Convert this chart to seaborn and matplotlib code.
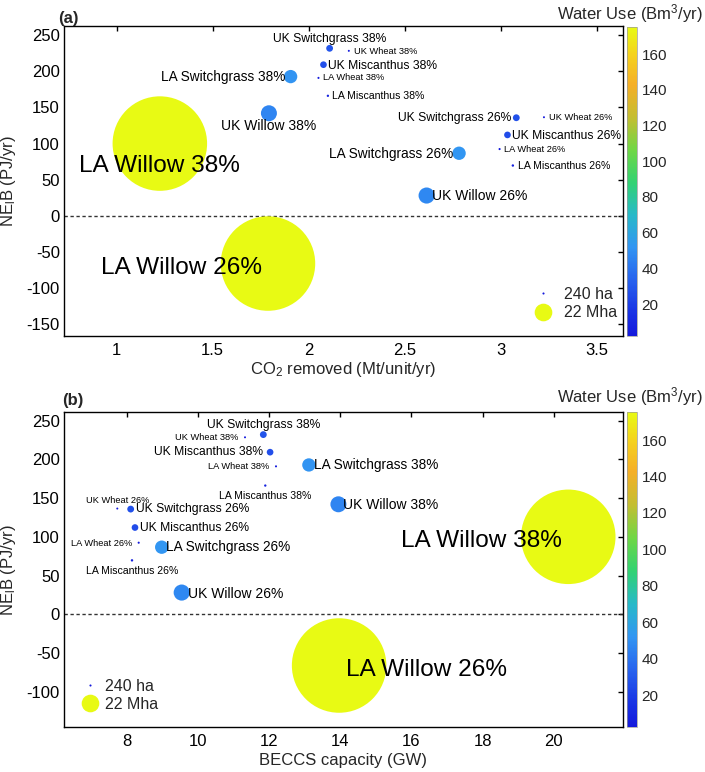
import numpy as np
import pandas as pd
import matplotlib
matplotlib.use("Agg")
import matplotlib.pyplot as plt
import seaborn as sns
from matplotlib.colors import LinearSegmentedColormap, Normalize
from matplotlib.cm import ScalarMappable
from matplotlib.lines import Line2D

# ---------------- data ----------------
labels = ["UK Switchgrass 38%", "UK Wheat 38%", "UK Miscanthus 38%", "LA Wheat 38%",
          "LA Miscanthus 38%", "LA Switchgrass 38%", "UK Willow 38%", "LA Willow 38%",
          "UK Switchgrass 26%", "UK Wheat 26%", "UK Miscanthus 26%", "LA Wheat 26%",
          "LA Miscanthus 26%", "LA Switchgrass 26%", "UK Willow 26%", "LA Willow 26%"]
ne_b = [232.0, 228.5, 209.3, 191.0, 166.2, 192.8, 142.0, 100.0,
        135.8, 136.5, 112.0, 92.4, 69.6, 86.6, 28.0, -66.2]
co2_removed = [2.109, 2.209, 2.077, 2.051, 2.100, 1.906, 1.793, 1.225,
               3.081, 3.225, 3.035, 2.994, 3.063, 2.783, 2.614, 1.788]
beccs_gw = [11.84, 11.325, 12.03, 12.196, 11.895, 13.12, 13.95, 20.41,
            8.112, 7.736, 8.233, 8.337, 8.149, 8.984, 9.546, 13.97]
water_use = [28, 3, 26, 4, 8, 51, 46, 175.4,
             27, 2.3, 25, 3.5, 7, 52, 47, 175.0]
land_mha = [0.105, 0.0003, 0.10, 0.0012, 0.004, 0.427, 0.62, 22.0,
            0.105, 0.00024, 0.10, 0.0015, 0.005, 0.43, 0.63, 22.0]
cbar_ticks = [20, 40, 60, 80, 100, 120, 140, 160]
legend_labels = ["240 ha", "22 Mha"]

df = pd.DataFrame({"label": labels, "ne_b": ne_b, "co2": co2_removed,
                   "beccs": beccs_gw, "water": water_use, "land": land_mha})

# ---------------- style ----------------
sns.set_style("white")
plt.rcParams["font.family"] = ["Liberation Sans", "DejaVu Sans"]
plt.rcParams["mathtext.fontset"] = "custom"
plt.rcParams["mathtext.rm"] = "Liberation Sans"
plt.rcParams["mathtext.it"] = "Liberation Sans:italic"
plt.rcParams["mathtext.default"] = "regular"
plt.rcParams["axes.unicode_minus"] = False

anchors = [(0.0, (20, 25, 220)), (0.073, (25, 50, 228)), (0.183, (40, 100, 238)),
           (0.287, (50, 150, 242)), (0.391, (40, 185, 200)), (0.495, (50, 210, 115)),
           (0.599, (110, 215, 70)), (0.706, (195, 190, 50)), (0.813, (245, 175, 40)),
           (0.911, (245, 210, 30)), (1.0, (232, 250, 20))]
cmap = LinearSegmentedColormap.from_list(
    "wu", [(p, tuple(c / 255 for c in rgb)) for p, rgb in anchors])
norm = Normalize(2.3, 175.4)

def fsize(lab):
    if "Willow" in lab:
        return 17.6 if lab.startswith("LA") else 10.0
    if "Switchgrass" in lab:
        return 9.8 if lab.startswith("LA") else 8.75
    if "Miscanthus" in lab:
        return 7.6 if lab.startswith("LA") else 8.75
    return 6.7

# label placement: (ha, dx px, dy px, va)
place_a = {
    "UK Switchgrass 38%": ("center", 0, 9, "center"),
    "UK Wheat 38%": ("left", 5.0, -0.5, "center"),
    "UK Miscanthus 38%": ("left", 4.5, -1, "center"),
    "LA Wheat 38%": ("left", 4.5, 0, "center"),
    "LA Miscanthus 38%": ("left", 4.5, -0.5, "center"),
    "LA Switchgrass 38%": ("right", -5, -0.5, "center"),
    "UK Willow 38%": ("center", 0, -12.7, "center"),
    "LA Willow 38%": ("center", 0, -28.4, "baseline"),
    "UK Switchgrass 26%": ("right", -4.7, 0, "center"),
    "UK Wheat 26%": ("left", 5.5, 0, "center"),
    "UK Miscanthus 26%": ("left", 4.8, -1, "center"),
    "LA Wheat 26%": ("left", 4.8, 0, "center"),
    "LA Miscanthus 26%": ("left", 4.8, 0, "center"),
    "LA Switchgrass 26%": ("right", -6, -0.7, "center"),
    "UK Willow 26%": ("left", 5.5, -0.7, "center"),
    "LA Willow 26%": ("right", -5.6, -10, "baseline"),
}
place_b = {
    "UK Switchgrass 38%": ("center", 0, 9.3, "center"),
    "UK Wheat 38%": ("right", -6.7, 0, "center"),
    "UK Miscanthus 38%": ("right", -6.7, 0, "center"),
    "LA Wheat 38%": ("right", -6.7, 0, "center"),
    "LA Miscanthus 38%": ("center", 0, -10.3, "center"),
    "LA Switchgrass 38%": ("left", 5.5, 0, "center"),
    "UK Willow 38%": ("left", 4.5, -1, "center"),
    "LA Willow 38%": ("right", -6.6, -10, "baseline"),
    "UK Switchgrass 26%": ("left", 5.5, 0, "center"),
    "UK Wheat 26%": ("center", 0, 8, "center"),
    "UK Miscanthus 26%": ("left", 5.2, 0, "center"),
    "LA Wheat 26%": ("right", -6, -1, "center"),
    "LA Miscanthus 26%": ("center", 0, -10.3, "center"),
    "LA Switchgrass 26%": ("left", 4.5, 0, "center"),
    "UK Willow 26%": ("left", 6.0, -1, "center"),
    "LA Willow 26%": ("left", 7.2, -10.7, "baseline"),
}

fig = plt.figure(figsize=(7.05, 7.72), dpi=100)
W, H = 705, 772

def add_axes_px(x0, y0, x1, y1):
    return fig.add_axes([x0 / W, 1 - y1 / H, (x1 - x0) / W, (y1 - y0) / H])

panels = [
    dict(ax=add_axes_px(64, 26, 622.7, 335.7), cax=add_axes_px(627.3, 26.7, 637, 335.7),
         x="co2", xlim=(0.726, 3.635), ylim=(-166.2, 262.9),
         xticks=[1, 1.5, 2, 2.5, 3, 3.5], yticks=np.arange(-150, 251, 50),
         xlabel=r"CO$_2$ removed (Mt/unit/yr)", tag="(a)", tagpos=(-0.011, 1.011),
         place=place_a, cbar_title_y=13.3,
         leg=dict(anchor=(0.8425, 0.1035), textpad=0.86)),
    dict(ax=add_axes_px(64, 412.3, 622.7, 727.3), cax=add_axes_px(627.3, 412, 637, 727.3),
         x="beccs", xlim=(6.238, 21.94), ylim=(-146.0, 260.8),
         xticks=[8, 10, 12, 14, 16, 18, 20], yticks=np.arange(-100, 251, 50),
         xlabel="BECCS capacity (GW)", tag="(b)", tagpos=(-0.003, 1.024),
         place=place_b, cbar_title_y=396.5,
         leg=dict(anchor=(0.0322, 0.1014), textpad=0.46)),
]

smax = (94.5 / 100 * 72) ** 2
smin = (2.0 / 100 * 72) ** 2

for p in panels:
    ax = p["ax"]
    ax.axhline(0, color="#333333", lw=1.0, ls=(0, (2.4, 1.9)), zorder=1)
    sns.scatterplot(data=df, x=p["x"], y="ne_b", hue="water", size="land",
                    palette=cmap, hue_norm=norm, sizes=(smin, smax),
                    size_norm=(min(land_mha), max(land_mha)),
                    linewidth=0, legend=False, ax=ax, zorder=2)
    for _, r in df.iterrows():
        ha, dx, dy, va = p["place"][r["label"]]
        ax.annotate(r["label"], (r[p["x"]], r["ne_b"]), xytext=(dx, dy),
                    textcoords="offset pixels", ha=ha, va=va,
                    fontsize=fsize(r["label"]), color="black", zorder=3)
    ax.set_xlim(*p["xlim"])
    ax.set_ylim(*p["ylim"])
    ax.set_xticks(p["xticks"])
    ax.set_xticklabels([f"{t:g}" for t in p["xticks"]])
    ax.set_yticks(p["yticks"])
    ax.set_yticklabels([f"{t:g}" for t in p["yticks"]])
    ax.tick_params(direction="in", length=3.6, width=1.0, top=True, right=True,
                   labelsize=12, colors="black")
    ax.tick_params(axis="x", pad=5)
    ax.tick_params(axis="y", pad=3)
    for s in ax.spines.values():
        s.set_visible(True)
        s.set_linewidth(1.0)
        s.set_color("black")
    ax.set_xlabel(p["xlabel"], fontsize=12)
    ax.set_ylabel(r"NE$_{\mathrm{l}}$B (PJ/yr)", fontsize=12)
    ax.yaxis.set_label_coords(-0.082, 0.5)
    ax.xaxis.set_label_coords(0.5, -0.08)
    ax.text(p["tagpos"][0], p["tagpos"][1], p["tag"], transform=ax.transAxes,
            fontsize=12, fontweight="bold", ha="left", va="baseline")

    # bubble legend
    handles = [Line2D([], [], marker="o", ls="", markersize=1.5, color=cmap(0.0), mec="none"),
               Line2D([], [], marker="o", ls="", markersize=12.7, color=cmap(1.0), mec="none")]
    ax.legend(handles, legend_labels, loc="center left", bbox_to_anchor=p["leg"]["anchor"],
              frameon=False, fontsize=11.5, handlelength=1.0, borderpad=0,
              handletextpad=p["leg"]["textpad"], labelspacing=0.2, borderaxespad=0)

    # colorbar
    cb = fig.colorbar(ScalarMappable(norm=norm, cmap=cmap), cax=p["cax"], ticks=cbar_ticks)
    cb.ax.tick_params(length=0, labelsize=11, pad=3.4)
    cb.outline.set_linewidth(0.5)
    cb.outline.set_edgecolor("#999999")
    fig.text(703 / W, 1 - p["cbar_title_y"] / H, r"Water Use (Bm$^3$/yr)",
             ha="right", va="center", fontsize=12)

fig.savefig("out.png", dpi=100)
